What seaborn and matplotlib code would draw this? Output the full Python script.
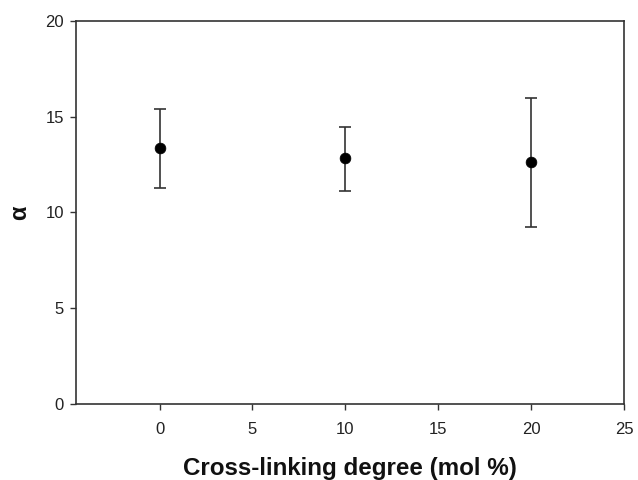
import matplotlib
matplotlib.use("Agg")
import matplotlib.pyplot as plt
import seaborn as sns
import pandas as pd

crosslinking = [0, 10, 20]
alpha_values = [13.35, 12.82, 12.64]
err_lower = [2.06, 1.69, 3.40]
err_upper = [2.03, 1.65, 3.35]

x_ticks = [0, 5, 10, 15, 20, 25]
y_ticks = [0, 5, 10, 15, 20]

sns.set_theme(style="white")
plt.rcParams['font.family'] = ['Liberation Sans', 'DejaVu Sans']

df = pd.DataFrame({"x": crosslinking, "alpha": alpha_values})

fig = plt.figure(figsize=(6.38, 4.8), dpi=100)
ax = fig.add_axes([0.119, 0.159, 0.859, 0.797])

ax.errorbar(df["x"], df["alpha"], yerr=[err_lower, err_upper], fmt="none",
            ecolor="#333333", elinewidth=1.2, capsize=4.3, capthick=1.2, zorder=2)
sns.scatterplot(data=df, x="x", y="alpha", ax=ax, color="black", s=60,
                edgecolor="black", linewidth=0.5, zorder=3, legend=False)

ax.set_xlim(-4.5, 25)
ax.set_ylim(0, 20)
ax.set_xticks(x_ticks)
ax.set_yticks(y_ticks)
ax.tick_params(axis="both", which="major", direction="out", length=4.5, width=1,
               color="#333333", labelsize=12, labelcolor="#222222",
               bottom=True, left=True, top=False, right=False)
ax.tick_params(axis="x", pad=9)
ax.tick_params(axis="y", pad=4)
for s in ax.spines.values():
    s.set_color("#333333")
    s.set_linewidth(1.2)

ax.set_xlabel("Cross-linking degree (mol %)", fontsize=17.4, fontweight="bold",
              color="#111111", labelpad=14)
ax.set_ylabel("α", fontsize=17, fontweight="bold", color="#111111", labelpad=10)

fig.savefig("out.png", dpi=100)
